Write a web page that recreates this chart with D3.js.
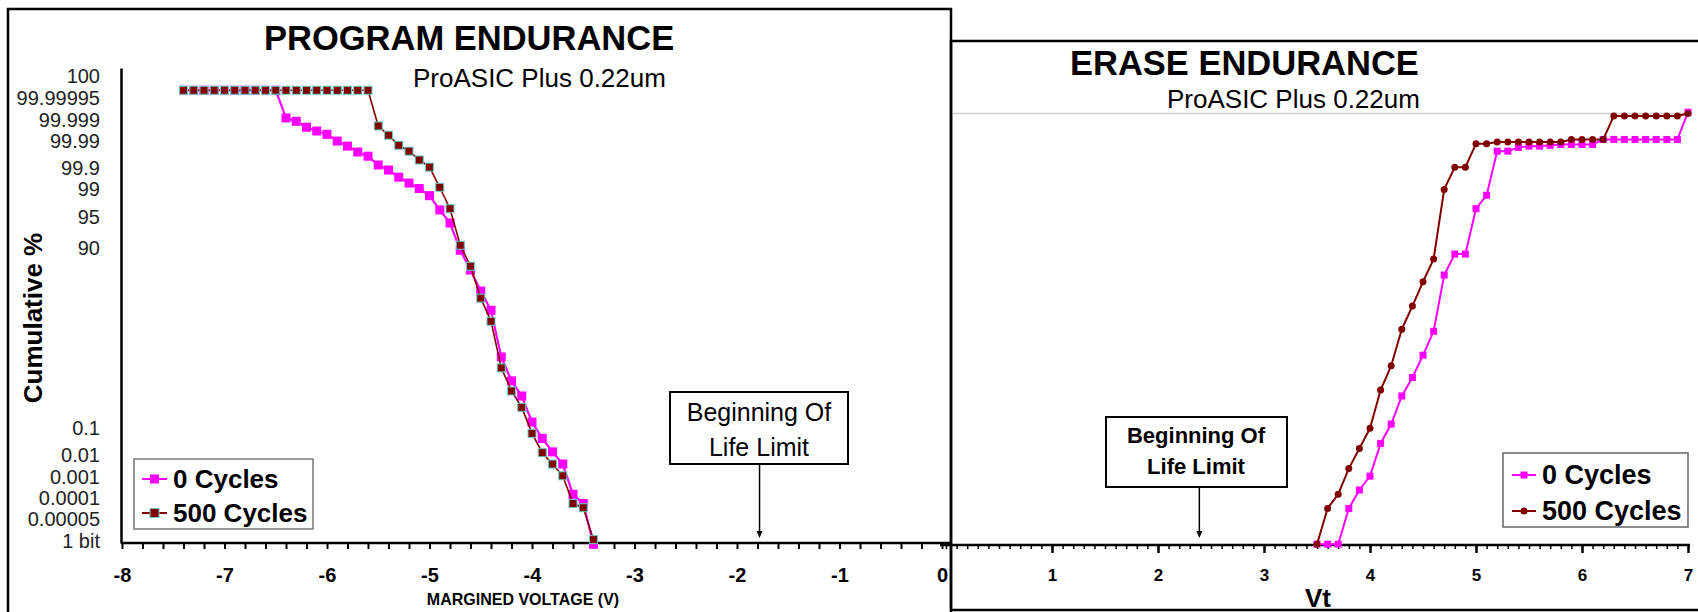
<!DOCTYPE html>
<html>
<head>
<meta charset="utf-8">
<script src="https://cdn.jsdelivr.net/npm/d3@7"></script>
<style>
  body { margin: 0; background: #fff; }
  svg { display: block; font-family: Arial, "Liberation Sans", sans-serif; }
  .title { font-weight: bold; font-size: 34.5px; }
  .sub { font-size: 26px; }
  .ylab text { font-size: 20px; fill: #222; }
  .xlabL text { font-size: 20px; font-weight: bold; }
  .xlabR text { font-size: 17px; font-weight: bold; }
</style>
</head>
<body>
<svg width="1698" height="612"></svg>
<script>
// y values are in sigma units of the normal-probability axis

// PROGRAM ENDURANCE (left)
const programVolts = [-7.4, -7.3, -7.2, -7.1, -7.0, -6.9, -6.8, -6.7, -6.6, -6.5,
  -6.4, -6.3, -6.2, -6.1, -6.0, -5.9, -5.8, -5.7, -5.6, -5.5,
  -5.4, -5.3, -5.2, -5.1, -5.0, -4.9, -4.8, -4.7, -4.6, -4.5,
  -4.4, -4.3, -4.2, -4.1, -4.0, -3.9, -3.8, -3.7, -3.6, -3.5, -3.4];
const program0 = [4.95, 4.95, 4.95, 4.95, 4.95, 4.95, 4.95, 4.95, 4.95, 4.95,
  4.29, 4.21, 4.07, 3.98, 3.90, 3.74, 3.62, 3.48, 3.38, 3.17,
  3.05, 2.88, 2.74, 2.61, 2.44, 2.10, 1.79, 1.14, 0.67, 0.17,
  -0.29, -1.40, -1.97, -2.33, -2.95, -3.34, -3.66, -3.95, -4.67, -4.89, -5.86];
const program500 = [4.95, 4.95, 4.95, 4.95, 4.95, 4.95, 4.95, 4.95, 4.95, 4.95,
  4.95, 4.95, 4.95, 4.95, 4.95, 4.95, 4.95, 4.95, 4.95, 4.10,
  3.88, 3.64, 3.50, 3.29, 3.12, 2.64, 2.13, 1.26, 0.76, 0.00,
  -0.55, -1.66, -2.21, -2.60, -3.22, -3.68, -3.95, -4.23, -4.89, -4.99, -5.75];

// ERASE ENDURANCE (right)
const eraseVolts = [3.5, 3.6, 3.7, 3.8, 3.9, 4.0, 4.1, 4.2, 4.3, 4.4,
  4.5, 4.6, 4.7, 4.8, 4.9, 5.0, 5.1, 5.2, 5.3, 5.4,
  5.5, 5.6, 5.7, 5.8, 5.9, 6.0, 6.1, 6.2, 6.3, 6.4,
  6.5, 6.6, 6.7, 6.8, 6.9, 7.0];
const erase0 = [-5.81, -5.81, -5.81, -4.96, -4.52, -4.19, -3.41, -2.95, -2.28, -1.84,
  -1.31, -0.74, 0.60, 1.10, 1.10, 2.18, 2.50, 3.55, 3.55, 3.64,
  3.67, 3.67, 3.69, 3.71, 3.71, 3.71, 3.71, 3.83, 3.83, 3.83,
  3.83, 3.83, 3.83, 3.83, 3.83, 4.48];
const erase500 = [-5.81, -4.96, -4.62, -4.01, -3.53, -3.05, -2.14, -1.56, -0.69, -0.14,
  0.44, 0.98, 2.64, 3.17, 3.17, 3.73, 3.73, 3.77, 3.77, 3.77,
  3.77, 3.77, 3.77, 3.77, 3.83, 3.83, 3.83, 3.83, 4.39, 4.39,
  4.39, 4.39, 4.39, 4.39, 4.39, 4.45];

// probability tick labels on the left axis and where they sit (sigma)
const probLabels = ['100', '99.99995', '99.999', '99.99', '99.9', '99', '95', '90',
  '0.1', '0.01', '0.001', '0.0001', '0.00005', '1 bit'];
const probSigma = [5.29, 4.77, 4.24, 3.73, 3.09, 2.59, 1.94, 1.18,
  -3.09, -3.73, -4.25, -4.77, -5.25, -5.78];

const seriesNames = ['0 Cycles', '500 Cycles'];
const limitLabel = ['Beginning Of', 'Life Limit'];
const programLimit = -1.78;
const eraseLimit = 2.39;

const PINK = '#ff00ff', BROWN = '#800000', TEAL = '#66cccc';
const hyphen = d => String(d).replace('\u2212', '-');

const svg = d3.select('svg');

// ---------- panel frames ----------
svg.append('rect')
  .attr('x', 8).attr('y', 9).attr('width', 943).attr('height', 640)
  .attr('fill', 'none').attr('stroke', '#000').attr('stroke-width', 2.5);
svg.append('path')
  .attr('d', 'M951,610 L951,41 L1700,41 M951,610 L1700,610')
  .attr('fill', 'none').attr('stroke', '#000').attr('stroke-width', 2.5);

// ---------- left chart ----------
const xL = d3.scaleLinear().domain([-8, 0]).range([122, 942]);
const yL = d3.scaleLinear().domain([-5.83, 5.48]).range([543, 68]);

svg.append('text').attr('class', 'title')
  .attr('x', 264).attr('y', 50).text('PROGRAM ENDURANCE');
svg.append('text').attr('class', 'sub')
  .attr('x', 413).attr('y', 87).text('ProASIC Plus 0.22um');

svg.append('text')
  .attr('transform', 'translate(42,318) rotate(-90)')
  .attr('text-anchor', 'middle')
  .style('font-size', '26px').style('font-weight', 'bold')
  .text('Cumulative %');

const yAxisL = svg.append('g')
  .attr('class', 'ylab')
  .attr('transform', 'translate(121,0)')
  .call(d3.axisLeft(yL).tickValues(probSigma)
    .tickFormat((d, i) => probLabels[i]).tickSize(0).tickPadding(21));
yAxisL.select('.domain').attr('stroke-width', 2.5);

const xAxisL = svg.append('g')
  .attr('class', 'xlabL')
  .attr('transform', 'translate(0,543)')
  .call(d3.axisBottom(xL).ticks(40).tickSize(6).tickSizeOuter(0).tickPadding(19)
    .tickFormat(d => Math.abs(d - Math.round(d)) < 1e-6 ? hyphen(d3.format('d')(d)) : ''));
xAxisL.select('.domain').attr('stroke-width', 2.5).attr('d', 'M121,0H951');
xAxisL.selectAll('.tick line').attr('stroke-width', 2);

svg.append('text')
  .attr('x', 523).attr('y', 605).attr('text-anchor', 'middle')
  .style('font-size', '16px').style('font-weight', 'bold')
  .text('MARGINED VOLTAGE (V)');

const lineL = d3.line().x(d => xL(d[0])).y(d => yL(d[1]));
const p0 = programVolts.map((v, i) => [v, program0[i]]);
const p500 = programVolts.map((v, i) => [v, program500[i]]);

svg.append('path').datum(p0).attr('d', lineL)
  .attr('fill', 'none').attr('stroke', PINK).attr('stroke-width', 2.2);
svg.selectAll('.sq0').data(p0).enter().append('rect')
  .attr('x', d => xL(d[0]) - 4.5).attr('y', d => yL(d[1]) - 4.5)
  .attr('width', 9).attr('height', 9).attr('fill', PINK);
svg.append('path').datum(p500).attr('d', lineL)
  .attr('fill', 'none').attr('stroke', BROWN).attr('stroke-width', 1.6);
svg.selectAll('.sq500').data(p500).enter().append('rect')
  .attr('x', d => xL(d[0]) - 4).attr('y', d => yL(d[1]) - 4)
  .attr('width', 8).attr('height', 8).attr('fill', BROWN)
  .attr('stroke', TEAL).attr('stroke-width', 1);

// limit note, left
const noteL = svg.append('g');
noteL.append('rect').attr('x', 670).attr('y', 392).attr('width', 178).attr('height', 72)
  .attr('fill', '#fff').attr('stroke', '#000').attr('stroke-width', 2);
noteL.selectAll('text').data(limitLabel).enter().append('text')
  .attr('x', 759).attr('y', (d, i) => 421 + i * 35)
  .attr('text-anchor', 'middle').style('font-size', '25px').text(d => d);
noteL.append('line').attr('x1', xL(programLimit)).attr('x2', xL(programLimit))
  .attr('y1', 464).attr('y2', 534).attr('stroke', '#000').attr('stroke-width', 1.5);
noteL.append('path')
  .attr('d', `M${xL(programLimit) - 3},531 L${xL(programLimit) + 3},531 L${xL(programLimit)},538 Z`);

// legend, left
const legL = svg.append('g');
legL.append('rect').attr('x', 134).attr('y', 459).attr('width', 179).attr('height', 70)
  .attr('fill', '#fff').attr('stroke', '#777').attr('stroke-width', 1.5);
seriesNames.forEach((name, i) => {
  const cy = 479 + i * 34;
  legL.append('line').attr('x1', 142).attr('x2', 167).attr('y1', cy).attr('y2', cy)
    .attr('stroke', i ? BROWN : PINK).attr('stroke-width', 2);
  legL.append('rect').attr('x', 150).attr('y', cy - 4.5).attr('width', 9).attr('height', 9)
    .attr('fill', i ? BROWN : PINK).attr('stroke', i ? TEAL : 'none');
  legL.append('text').attr('x', 173).attr('y', cy + 9)
    .style('font-size', '26px').style('font-weight', 'bold').text(name);
});

// ---------- right chart ----------
const xR = d3.scaleLinear().domain([0, 7]).range([946, 1688]);
const yR = d3.scaleLinear().domain([-5.83, 4.46]).range([545, 113]);

svg.append('text').attr('class', 'title')
  .attr('x', 1070).attr('y', 75).text('ERASE ENDURANCE');
svg.append('text').attr('class', 'sub')
  .attr('x', 1167).attr('y', 108).text('ProASIC Plus 0.22um');

svg.append('line').attr('x1', 953).attr('x2', 1690).attr('y1', 113.5).attr('y2', 113.5)
  .attr('stroke', '#cfcfcf').attr('stroke-width', 1.5);

const xAxisR = svg.append('g')
  .attr('class', 'xlabR')
  .attr('transform', 'translate(0,545)')
  .call(d3.axisBottom(xR).ticks(70).tickSize(4).tickSizeOuter(0).tickFormat(''));
xAxisR.select('.domain').attr('stroke-width', 2.5).attr('d', 'M940,0H1690');
xAxisR.selectAll('.tick line').attr('stroke-width', 1.5);
svg.append('g')
  .attr('class', 'xlabR')
  .attr('transform', 'translate(0,545)')
  .call(d3.axisBottom(xR).tickValues([1, 2, 3, 4, 5, 6, 7]).tickSize(8).tickPadding(16)
    .tickFormat(d3.format('d')))
  .call(g => g.select('.domain').remove())
  .call(g => g.selectAll('.tick line').attr('stroke-width', 2.5));

svg.append('text')
  .attr('x', 1318).attr('y', 607).attr('text-anchor', 'middle')
  .style('font-size', '26px').style('font-weight', 'bold').text('Vt');

const lineR = d3.line().x(d => xR(d[0])).y(d => yR(d[1]));
const e0 = eraseVolts.map((v, i) => [v, erase0[i]]);
const e500 = eraseVolts.map((v, i) => [v, erase500[i]]);

svg.append('path').datum(e0).attr('d', lineR)
  .attr('fill', 'none').attr('stroke', PINK).attr('stroke-width', 2);
svg.selectAll('.rsq').data(e0).enter().append('rect')
  .attr('x', d => xR(d[0]) - 3.5).attr('y', d => yR(d[1]) - 3.5)
  .attr('width', 7).attr('height', 7).attr('fill', PINK);
svg.append('path').datum(e500).attr('d', lineR)
  .attr('fill', 'none').attr('stroke', BROWN).attr('stroke-width', 2);
svg.selectAll('.rdot').data(e500).enter().append('circle')
  .attr('cx', d => xR(d[0])).attr('cy', d => yR(d[1])).attr('r', 3.5)
  .attr('fill', BROWN);

// limit note, right
const noteR = svg.append('g');
noteR.append('rect').attr('x', 1106).attr('y', 417).attr('width', 181).attr('height', 70)
  .attr('fill', '#fff').attr('stroke', '#000').attr('stroke-width', 2);
noteR.selectAll('text').data(limitLabel).enter().append('text')
  .attr('x', 1196).attr('y', (d, i) => 443 + i * 31)
  .attr('text-anchor', 'middle').style('font-size', '22px').style('font-weight', 'bold')
  .text(d => d);
noteR.append('line').attr('x1', xR(eraseLimit)).attr('x2', xR(eraseLimit))
  .attr('y1', 487).attr('y2', 534).attr('stroke', '#000').attr('stroke-width', 1.5);
noteR.append('path')
  .attr('d', `M${xR(eraseLimit) - 3},531 L${xR(eraseLimit) + 3},531 L${xR(eraseLimit)},538 Z`);

// legend, right
const legR = svg.append('g');
legR.append('rect').attr('x', 1503).attr('y', 453).attr('width', 185).attr('height', 74)
  .attr('fill', '#fff').attr('stroke', '#666').attr('stroke-width', 1.5);
seriesNames.forEach((name, i) => {
  const cy = 475 + i * 36;
  legR.append('line').attr('x1', 1512).attr('x2', 1536).attr('y1', cy).attr('y2', cy)
    .attr('stroke', i ? BROWN : PINK).attr('stroke-width', 2);
  if (i) {
    legR.append('circle').attr('cx', 1524).attr('cy', cy).attr('r', 3.5).attr('fill', BROWN);
  } else {
    legR.append('rect').attr('x', 1520.5).attr('y', cy - 3.5).attr('width', 7).attr('height', 7)
      .attr('fill', PINK);
  }
  legR.append('text').attr('x', 1542).attr('y', cy + 9)
    .style('font-size', '27px').style('font-weight', 'bold').text(name);
});
</script>
</body>
</html>
